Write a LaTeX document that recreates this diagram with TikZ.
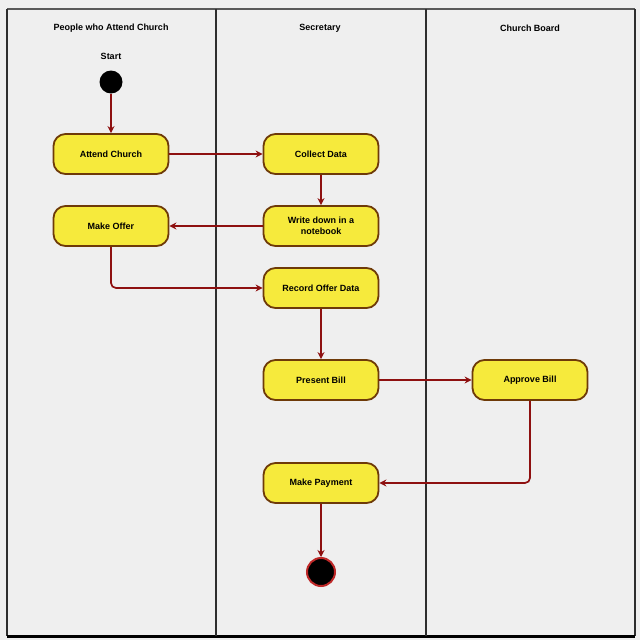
\documentclass[tikz,border=0pt]{standalone}
\usepackage{fontspec}
\setmainfont{Liberation Sans}
\usetikzlibrary{arrows.meta}
\definecolor{bgc}{HTML}{EFEFEF}
\definecolor{arr}{HTML}{8E1010}
\definecolor{nodeb}{HTML}{6E3A08}
\definecolor{nodef}{HTML}{F6EA3C}
\definecolor{lanec}{HTML}{2E2E2E}
\tikzset{
  act/.style={draw=nodeb, fill=nodef, line width=1.8pt, rounded corners=12pt,
    minimum width=115pt, minimum height=40pt, align=center,
    font=\fontsize{9}{10.5}\selectfont\bfseries, inner sep=2pt},
  hdr/.style={font=\fontsize{9}{10.5}\selectfont\bfseries},
  flow/.style={draw=arr, line width=1.7pt, -{Stealth[length=7pt,width=7pt]}},
  lane/.style={draw=lanec, line width=2pt}
}
\begin{document}
\begin{tikzpicture}[x=1pt,y=-1pt]
\useasboundingbox (0,0) rectangle (640,640);
\fill[bgc] (0,0) rectangle (640,640);
% frame
\draw[draw=gray!70!black, line width=1.5pt] (7,9) -- (635,9);
\draw[lane] (7,9) -- (7,636);
\draw[lane] (635,9) -- (635,636);
\draw[draw=black, line width=3pt] (7,636) -- (635,636);
\draw[lane] (216,9) -- (216,636);
\draw[lane] (426,9) -- (426,636);
% headers
\node[hdr] (h1) at (111,28) {People who Attend Church};
\node[hdr] (h2) at (320,28) {Secretary};
\node[hdr] (h3) at (530,28) {Church Board};
% start
\node[hdr] (startlbl) at (111,56) {Start};
\node[circle, fill=black, minimum size=23pt, inner sep=0pt] (start) at (111,82) {};
% activities
\node[act] (attend) at (111,154) {Attend Church};
\node[act] (collect) at (321,154) {Collect Data};
\node[act] (write) at (321,226) {Write down in a\\notebook};
\node[act] (offer) at (111,226) {Make Offer};
\node[act] (record) at (321,288) {Record Offer Data};
\node[act] (present) at (321,380) {Present Bill};
\node[act] (approve) at (530,380) {Approve Bill};
\node[act] (payment) at (321,483) {Make Payment};
% end
\node[circle, fill=black, draw={rgb,255:red,190;green,40;blue,40}, line width=2pt, minimum size=28pt, inner sep=0pt] (end) at (321,572) {};
% flows
\draw[flow] (start) -- (attend);
\draw[flow] (attend) -- (collect);
\draw[flow] (collect) -- (write);
\draw[flow] (write) -- (offer);
\draw[flow, rounded corners=5pt] (offer.south) |- (record.west);
\draw[flow] (record) -- (present);
\draw[flow] (present) -- (approve);
\draw[flow, rounded corners=5pt] (approve.south) |- (payment.east);
\draw[flow] (payment) -- (end);
\end{tikzpicture}
\end{document}
